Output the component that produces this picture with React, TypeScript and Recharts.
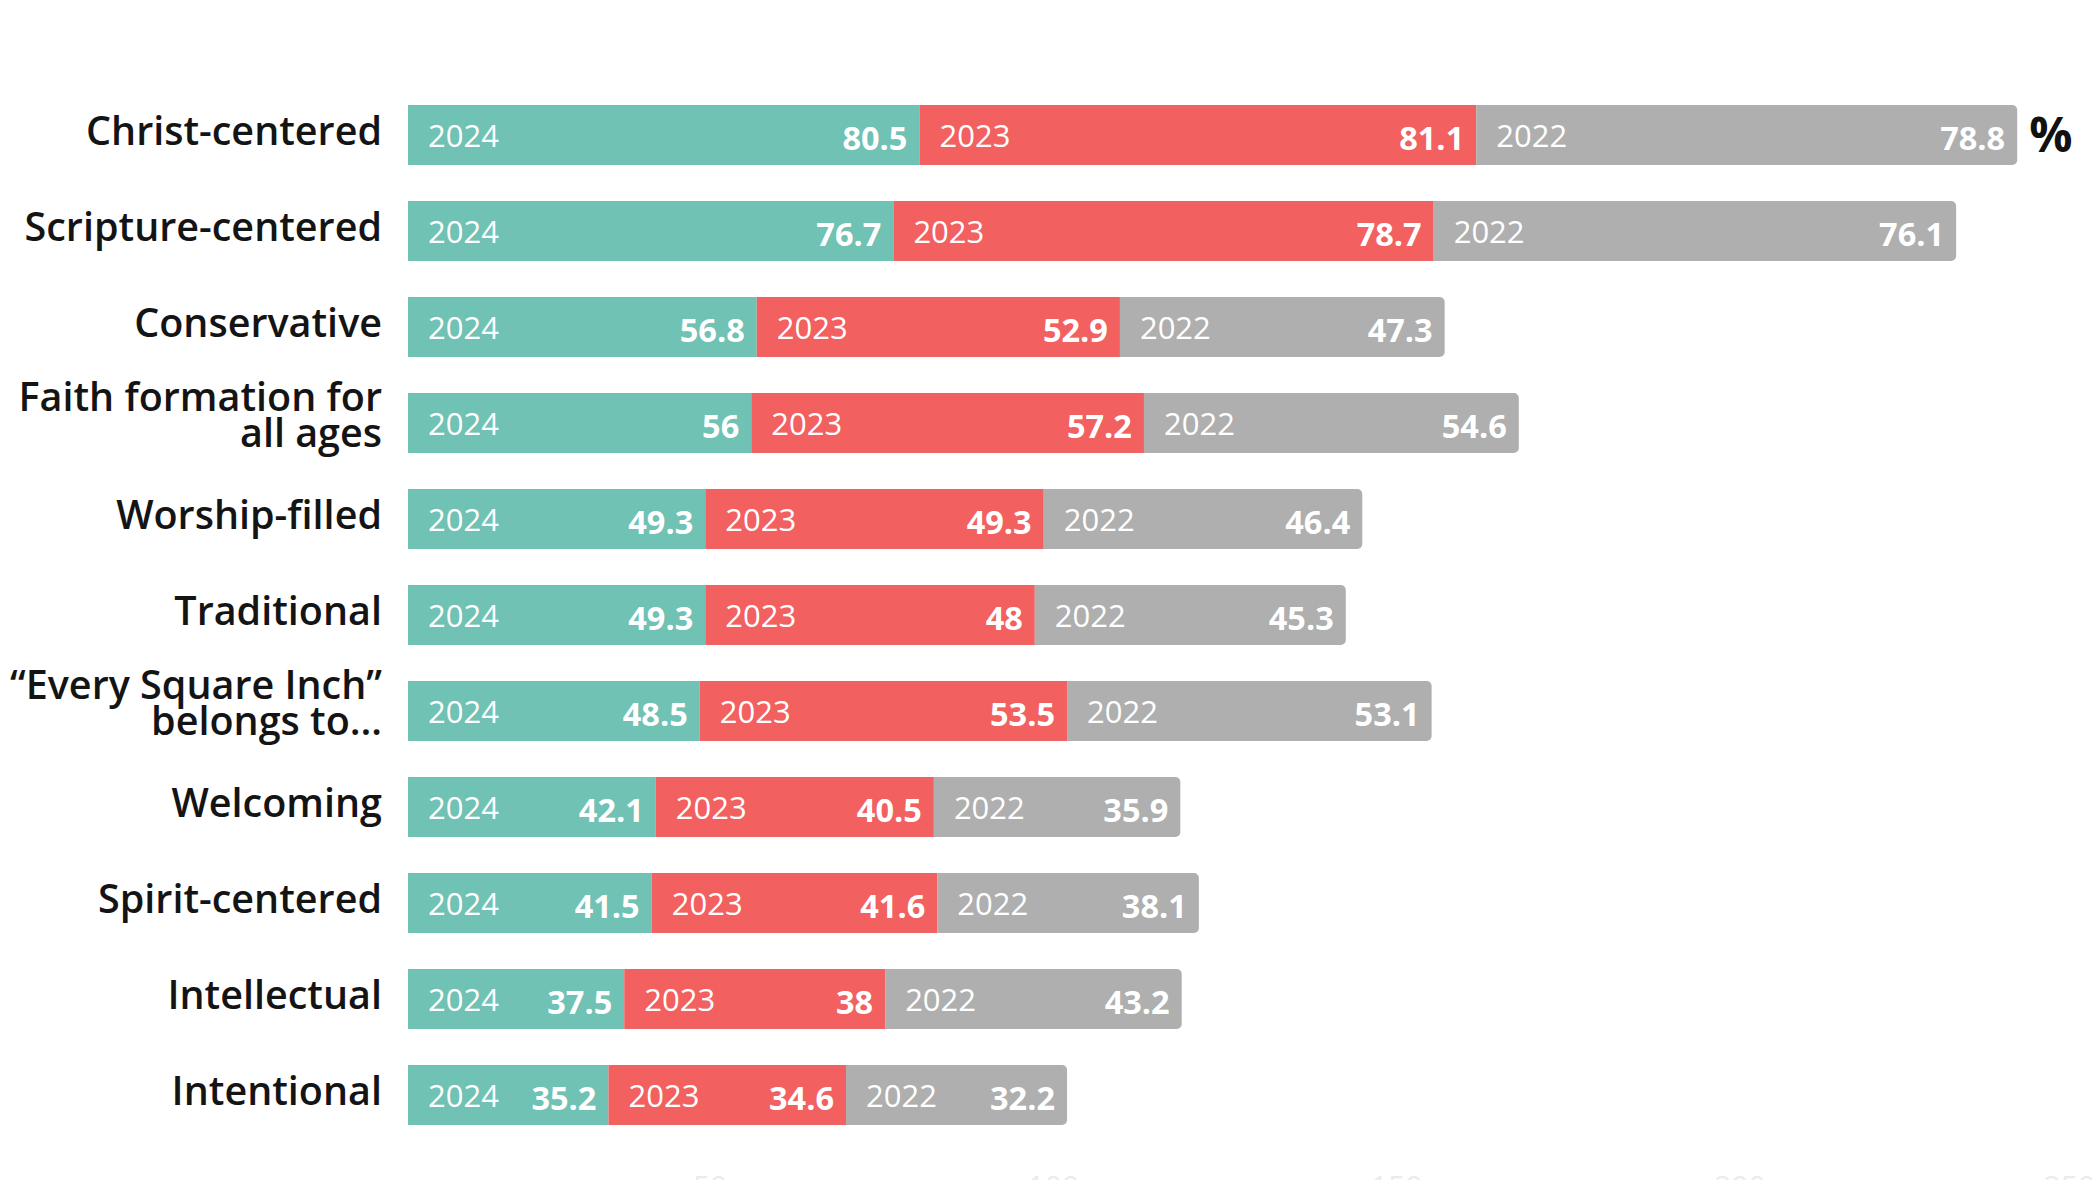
import React from 'react';
import { BarChart, Bar, XAxis, YAxis, LabelList } from 'recharts';

const categories = [
  'Christ-centered',
  'Scripture-centered',
  'Conservative',
  'Faith formation for\nall ages',
  'Worship-filled',
  'Traditional',
  '“Every Square Inch”\nbelongs to…',
  'Welcoming',
  'Spirit-centered',
  'Intellectual',
  'Intentional',
];
const values2024 = [80.5, 76.7, 56.8, 56, 49.3, 49.3, 48.5, 42.1, 41.5, 37.5, 35.2];
const values2023 = [81.1, 78.7, 52.9, 57.2, 49.3, 48, 53.5, 40.5, 41.6, 38, 34.6];
const values2022 = [78.8, 76.1, 47.3, 54.6, 46.4, 45.3, 53.1, 35.9, 38.1, 43.2, 32.2];
const xTicks = [50, 100, 150, 200, 250];

const TEAL = '#70c2b4';
const RED = '#f26060';
const GRAY = '#aeafae';

const Y_AXIS_WIDTH = 400;
const YEAR_SIZE = 31;
const VALUE_SIZE = 32.5;
const CAT_SIZE = 39.5;

const data = categories.map((name, i) => ({
  name,
  y2024: values2024[i],
  y2023: values2023[i],
  y2022: values2022[i],
}));

const CategoryTick = (props: any) => {
  const { x, y, payload } = props;
  const lines = String(payload.value).split('\n');
  const lineH = 36;
  const first = lines.length > 1 ? y - 12 : y + 10;
  return (
    <text x={x} y={first} textAnchor="end" fill="#141414" fontSize={CAT_SIZE} fontWeight={600} fontFamily="'Open Sans', sans-serif">
      {lines.map((l, i) => (
        <tspan key={i} x={x} dy={i === 0 ? 0 : lineH}>{l}</tspan>
      ))}
    </text>
  );
};

const makeSegmentLabel = (year: string, last: boolean) => (props: any) => {
  const { x, y, width, height, value, index } = props;
  const left = Math.max(x, Y_AXIS_WIDTH);
  const right = x + width;
  const cy = y + height / 2;
  return (
    <g>
      <text x={left + 20} y={cy + YEAR_SIZE * 0.357 + 1} fill="#fff" fontSize={YEAR_SIZE} fontFamily="'Open Sans', sans-serif">
        {year}
      </text>
      <text x={right - 12} y={cy + VALUE_SIZE * 0.357 + 3} textAnchor="end" fill="#fff" fontSize={VALUE_SIZE} fontWeight={700} fontFamily="'Open Sans', sans-serif">
        {value}
      </text>
      {last && index === 0 && (
        <text x={right + 12} y={cy + 17} fill="#111" fontSize={48} fontWeight={700} fontFamily="'Open Sans', sans-serif">
          %
        </text>
      )}
    </g>
  );
};

const App: React.FC = () => {
  return (
    <div style={{ width: 2084, height: 1172, overflow: 'hidden', fontFamily: "'Open Sans', sans-serif" }}>
      <BarChart
        width={2084}
        height={1240}
        data={data}
        layout="vertical"
        margin={{ top: 79, right: 2, left: 0, bottom: 0 }}
        barSize={60}
      >
        <XAxis
          type="number"
          domain={[6, 251]}
          ticks={xTicks}
          allowDataOverflow
          axisLine={false}
          tickLine={false}
          tickSize={0}
          tickMargin={33}
          height={105}
          tick={{ fontSize: 30, fill: '#ebebeb' }}
        />
        <YAxis
          type="category"
          dataKey="name"
          width={Y_AXIS_WIDTH}
          axisLine={false}
          tickLine={false}
          tickSize={0}
          tickMargin={26}
          interval={0}
          tick={<CategoryTick />}
        />
        <Bar dataKey="y2024" stackId="a" fill={TEAL} isAnimationActive={false}>
          <LabelList dataKey="y2024" content={makeSegmentLabel('2024', false)} />
        </Bar>
        <Bar dataKey="y2023" stackId="a" fill={RED} isAnimationActive={false}>
          <LabelList dataKey="y2023" content={makeSegmentLabel('2023', false)} />
        </Bar>
        <Bar dataKey="y2022" stackId="a" fill={GRAY} radius={[0, 5, 5, 0]} isAnimationActive={false}>
          <LabelList dataKey="y2022" content={makeSegmentLabel('2022', true)} />
        </Bar>
      </BarChart>
    </div>
  );
};

export default App;
